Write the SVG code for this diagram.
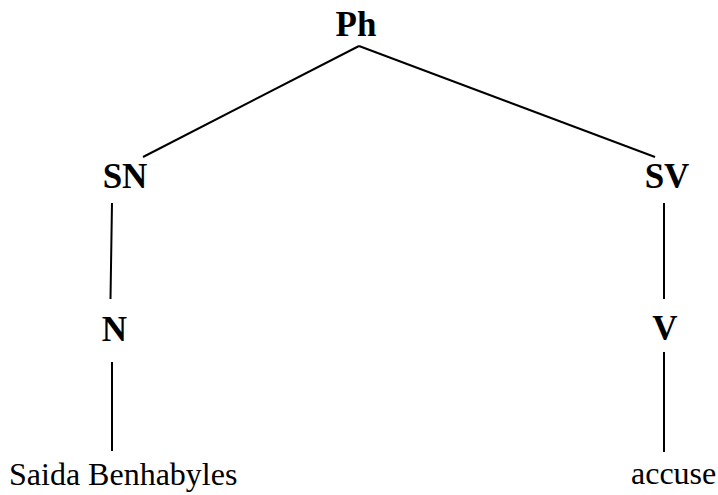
<svg xmlns="http://www.w3.org/2000/svg" width="718" height="495" viewBox="0 0 718 495">
<style>
.cat{font-family:"Liberation Serif","Times New Roman",serif;font-weight:bold;font-size:35px;fill:#000;text-anchor:middle}
.word{font-family:"Liberation Serif","Times New Roman",serif;font-size:32px;fill:#000}
.edge{stroke:#000;stroke-width:2;fill:none}
</style>
<rect width="718" height="495" fill="#fff"/>
<g id="connectors">
<line class="edge" x1="359" y1="46" x2="143" y2="157"/>
<line class="edge" x1="359" y1="46" x2="655" y2="157"/>
<line class="edge" x1="112" y1="203" x2="110.5" y2="299"/>
<line class="edge" x1="664" y1="203" x2="664" y2="299"/>
<line class="edge" x1="112" y1="362" x2="112" y2="451"/>
<line class="edge" x1="664" y1="352" x2="664" y2="452"/>
</g>
<g id="node-Ph"><text class="cat" x="356" y="36">Ph</text></g>
<g id="node-SN"><text class="cat" x="125" y="188">SN</text></g>
<g id="node-SV"><text class="cat" x="667" y="188">SV</text></g>
<g id="node-N"><text class="cat" x="114.5" y="341">N</text></g>
<g id="node-V"><text class="cat" x="665" y="340">V</text></g>
<g id="node-saida"><text class="word" x="9" y="485">Saida Benhabyles</text></g>
<g id="node-accuse"><text class="word" x="631" y="484">accuse</text></g>
</svg>
